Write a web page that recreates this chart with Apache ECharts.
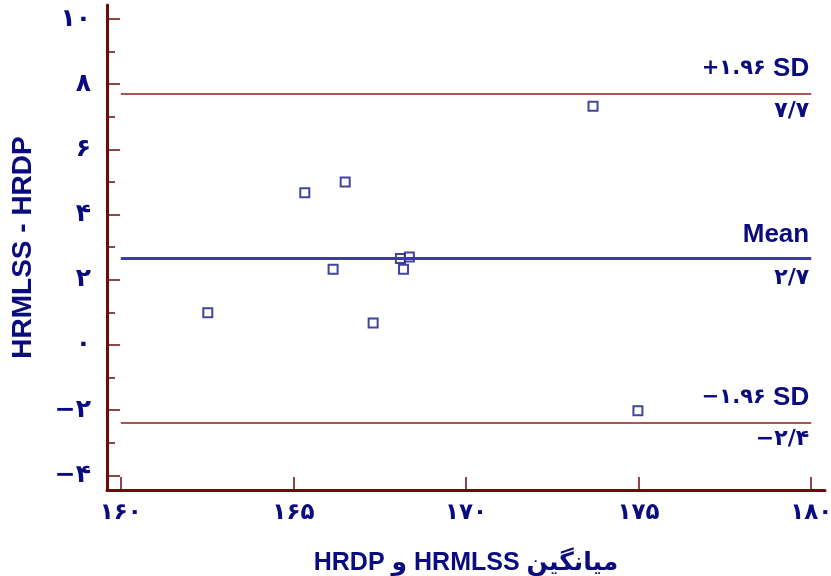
<!DOCTYPE html>
<html>
<head>
<meta charset="utf-8">
<title>Bland-Altman</title>
<script src="https://cdn.jsdelivr.net/npm/echarts@6/dist/echarts.min.js"></script>
<style>
  html, body { margin: 0; padding: 0; background: #fff; }
  #main { width: 831px; height: 576px; }
</style>
</head>
<body>
<div id="main"></div>
<script type="text/javascript">
// tick values
var xTicks = [160, 165, 170, 175, 180];
var yTicks = [-4, -2, 0, 2, 4, 6, 8, 10];
var yMinorTicks = [-3, -1, 1, 3, 5, 7, 9];

// points: mean of the two methods / difference
var meanX = [162.52, 165.33, 166.50, 166.15, 167.31, 168.10, 168.36, 168.19, 173.68, 174.98];
var diffY = [0.99, 4.67, 5.00, 2.32, 0.67, 2.65, 2.70, 2.32, 7.32, -2.02];

// limits of agreement
var limitValues = [7.70, 2.66, -2.38];
var limitNames = ['{s|+۱.۹۶ }{b|SD}', '{b|Mean}', '{s|−۱.۹۶ }{b|SD}'];
var limitLabels = ['۷/۷', '۲/۷', '−۲/۴'];

var navy = '#0b0b80';
var axisRed = '#6e0a0a';
var fa = '۰۱۲۳۴۵۶۷۸۹';
function toFa(v) {
    return String(v).replace(/\d/g, function (d) { return fa[d]; }).replace('-', '−');
}

var points = meanX.map(function (x, i) { return [x, diffY[i]]; });

var lines = [];
limitValues.forEach(function (v, i) {
    var isMean = i === 1;
    var col = isMean ? '#3b3ba3' : '#8e1b1b';
    var w = isMean ? 3 : 1.5;
    lines.push([
        { coord: [160, v], lineStyle: { color: col, width: w, type: 'solid' },
          label: { show: true, position: 'insideEndTop', distance: [2, isMean ? 10 : 12],
                   formatter: limitNames[i] } },
        { coord: [180, v] }
    ]);
    // second, invisible line only carries the value under the line
    lines.push([
        { coord: [160, v], lineStyle: { color: 'rgba(0,0,0,0)', width: 0 },
          label: { show: true, position: 'insideEndBottom', distance: [2, isMean ? 9 : 6],
                   formatter: '{v|' + limitLabels[i] + '}' } },
        { coord: [180, v] }
    ]);
});

var rich = {
    s: { fontSize: 21, fontWeight: 'bold', color: navy, fontFamily: 'DejaVu Sans, sans-serif' },
    v: { fontSize: 22, fontWeight: 'bold', color: navy, fontFamily: 'DejaVu Sans, sans-serif' },
    b: { fontSize: 26, fontWeight: 'bold', color: navy, fontFamily: 'Liberation Sans, sans-serif' }
};

var myChart = echarts.init(document.getElementById('main'));
var option = {
    backgroundColor: '#fff',
    animation: false,
    grid: { left: 107, right: 6, top: 5, bottom: 86, outerBoundsMode: 'none' },
    xAxis: {
        type: 'value', min: 159.6, max: 180.4,
        name: 'HRDP و HRMLSS میانگین',
        nameLocation: 'middle', nameGap: 61,
        nameTextStyle: { color: navy, fontSize: 25, fontWeight: 'bold', fontFamily: 'Liberation Sans, DejaVu Sans, sans-serif' },
        splitLine: { show: false },
        axisLine: { show: true, onZero: false, lineStyle: { color: axisRed, width: 3 } },
        axisTick: { show: true, inside: true, length: 13, customValues: xTicks, lineStyle: { color: axisRed, width: 1.5 } },
        axisLabel: { customValues: xTicks, margin: 12, color: navy, fontSize: 23, fontWeight: 'bold',
                     fontFamily: 'DejaVu Sans, sans-serif', formatter: toFa }
    },
    yAxis: [{
        type: 'value', min: -4.45, max: 10.43,
        name: 'HRMLSS - HRDP',
        nameLocation: 'middle', nameGap: 70, nameRotate: 90,
        nameTextStyle: { color: navy, fontSize: 28, fontWeight: 'bold', fontFamily: 'Liberation Sans, sans-serif' },
        splitLine: { show: false },
        axisLine: { show: true, onZero: false, lineStyle: { color: axisRed, width: 3 } },
        axisTick: { show: true, inside: true, length: 13, customValues: yTicks, lineStyle: { color: axisRed, width: 1.5 } },
        axisLabel: { customValues: yTicks, margin: 16, color: navy, fontSize: 25, fontWeight: 'bold',
                     fontFamily: 'DejaVu Sans, sans-serif', formatter: toFa }
    }, {
        type: 'value', min: -4.45, max: 10.43, position: 'left',
        splitLine: { show: false },
        axisLine: { show: false, onZero: false },
        axisTick: { show: true, inside: true, length: 8, customValues: yMinorTicks, lineStyle: { color: axisRed, width: 1.5 } },
        axisLabel: { show: false }
    }],
    series: [{
        type: 'scatter',
        data: points,
        symbol: 'rect',
        symbolSize: 9,
        itemStyle: { color: '#fff', borderColor: '#14148a', borderWidth: 2 },
        markLine: {
            silent: true,
            symbol: ['none', 'none'],
            label: { color: navy, rich: rich },
            data: lines
        }
    }]
};
myChart.setOption(option);
</script>
</body>
</html>
